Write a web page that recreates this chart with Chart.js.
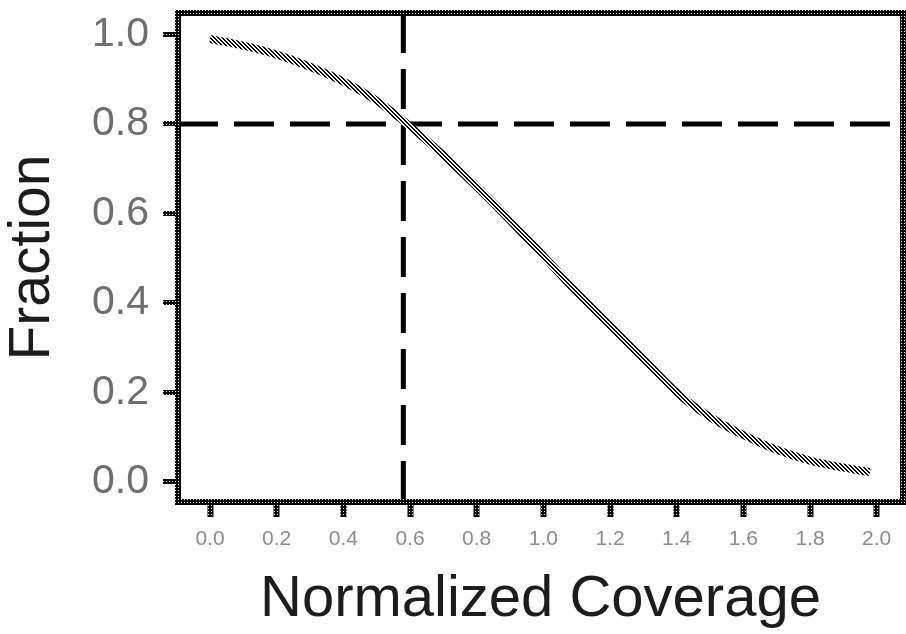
<!DOCTYPE html>
<html>
<head>
<meta charset="utf-8">
<script src="https://cdn.jsdelivr.net/npm/chart.js@4.4.1/dist/chart.umd.min.js"></script>
<style>
  html, body { margin: 0; padding: 0; background: #fff; }
  #wrap { width: 906px; height: 634px; }
</style>
</head>
<body>
<div id="wrap"><canvas id="c" width="906" height="634"></canvas></div>
<script>
const coverage = [0.0, 0.1, 0.2, 0.3, 0.4, 0.5, 0.6, 0.7, 0.8, 0.9, 1.0, 1.1, 1.2, 1.3, 1.4, 1.5, 1.6, 1.7, 1.8, 1.9, 1.98];
const fraction = [0.99, 0.975, 0.955, 0.928, 0.895, 0.852, 0.795, 0.73, 0.66, 0.585, 0.505, 0.425, 0.35, 0.275, 0.2, 0.145, 0.105, 0.072, 0.048, 0.032, 0.022];
const xTicks = [0.0, 0.2, 0.4, 0.6, 0.8, 1.0, 1.2, 1.4, 1.6, 1.8, 2.0];
const yTicks = [0.0, 0.2, 0.4, 0.6, 0.8, 1.0];
const cutoffCoverage = 0.58;
const cutoffFraction = 0.8;

// dithered looks of the scanned figure
const makePattern = (size, paint) => {
  const cv = document.createElement('canvas');
  cv.width = size; cv.height = size;
  const g = cv.getContext('2d');
  g.fillStyle = '#fff';
  g.fillRect(0, 0, size, size);
  g.fillStyle = '#000';
  for (let y = 0; y < size; y++)
    for (let x = 0; x < size; x++)
      if (paint(x, y)) g.fillRect(x, y, 1, 1);
  return g.createPattern(cv, 'repeat');
};
const frameFill = makePattern(3, (x, y) => !(x === 1 && y === 1));
const hatch = makePattern(4, (x, y) => ((x - y) % 4 + 4) % 4 < 2);

const frameAndCutoffs = {
  id: 'frameAndCutoffs',
  beforeDatasetsDraw(chart) {
    const {ctx, chartArea, scales} = chart;
    const {left, right, top, bottom} = chartArea;
    const xc = scales.x.getPixelForValue(cutoffCoverage);
    const yc = scales.y.getPixelForValue(cutoffFraction);
    ctx.save();
    ctx.strokeStyle = '#000';
    ctx.lineWidth = 5;
    ctx.setLineDash([40, 16]);
    ctx.beginPath();
    ctx.moveTo(xc, top);
    ctx.lineTo(xc, bottom);
    ctx.moveTo(left, yc);
    ctx.lineTo(right, yc);
    ctx.stroke();
    ctx.restore();
  },
  afterDatasetsDraw(chart) {
    const {ctx, chartArea} = chart;
    const {left, right, top, bottom} = chartArea;
    ctx.save();
    ctx.strokeStyle = frameFill;
    ctx.lineWidth = 6;
    ctx.strokeRect(left, top, right - left, bottom - top);
    ctx.restore();
  }
};

const tickFmt = v => Number(v).toFixed(1);

new Chart(document.getElementById('c'), {
  type: 'line',
  data: {
    datasets: [{
      label: 'Fraction',
      data: coverage.map((x, i) => ({x, y: fraction[i]})),
      borderColor: hatch,
      borderWidth: 8,
      pointRadius: 0,
      cubicInterpolationMode: 'monotone',
      fill: false
    }]
  },
  plugins: [frameAndCutoffs],
  options: {
    responsive: false,
    animation: false,
    layout: {padding: {top: 13, right: 3, left: 0, bottom: 0}},
    plugins: {legend: {display: false}, tooltip: {enabled: false}},
    scales: {
      x: {
        type: 'linear',
        min: -0.096,
        max: 2.079,
        afterFit: s => { s.height = 132; s.paddingLeft = 0; s.paddingRight = 0; },
        afterBuildTicks: s => { s.ticks = xTicks.map(value => ({value})); },
        border: {display: false},
        grid: {drawOnChartArea: false, drawTicks: true, tickLength: 15, tickWidth: 6, tickColor: frameFill},
        ticks: {
          callback: tickFmt,
          color: '#8c8c8c',
          padding: 12,
          maxRotation: 0,
          autoSkip: false,
          font: {family: 'Liberation Sans', size: 21, lineHeight: 1}
        },
        title: {
          display: true,
          text: 'Normalized Coverage',
          color: '#1c1c1c',
          padding: {top: 0, bottom: 5},
          font: {family: 'Liberation Sans', size: 58, lineHeight: 1}
        }
      },
      y: {
        type: 'linear',
        min: -0.0447,
        max: 1.048,
        afterFit: s => { s.width = 178; s.paddingTop = 0; s.paddingBottom = 0; },
        afterBuildTicks: s => { s.ticks = yTicks.map(value => ({value})); },
        border: {display: false},
        grid: {drawOnChartArea: false, drawTicks: true, tickLength: 15, tickWidth: 5, tickColor: frameFill},
        ticks: {
          callback: tickFmt,
          color: '#6e6e6e',
          padding: 14,
          autoSkip: false,
          font: {family: 'Liberation Sans', size: 41, lineHeight: 1}
        },
        title: {
          display: true,
          text: 'Fraction',
          color: '#1c1c1c',
          padding: {top: 5, bottom: 0},
          font: {family: 'Liberation Sans', size: 57, lineHeight: 1}
        }
      }
    }
  }
});
</script>
</body>
</html>
